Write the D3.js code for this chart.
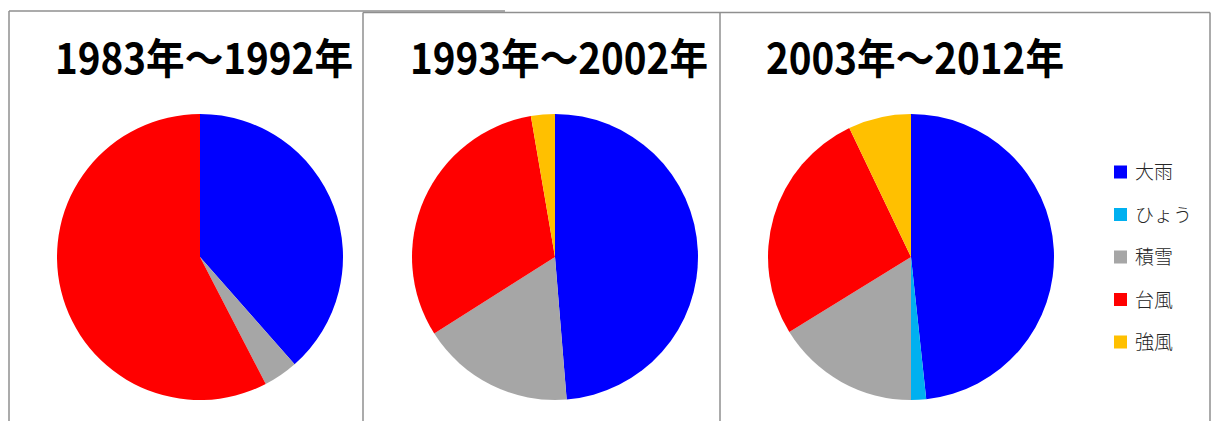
<!DOCTYPE html>
<html>
<head>
<meta charset="utf-8">
<script src="https://cdn.jsdelivr.net/npm/d3@7"></script>
<style>
  html, body { margin: 0; padding: 0; background: #fff; }
  svg { display: block; }
</style>
</head>
<body>
<div class="wrapper"></div>
<script>
// data (percent of each period)
var categories = ["大雨", "ひょう", "積雪", "台風", "強風"];
var colors = ["#0000ff", "#00b0f0", "#a6a6a6", "#ff0000", "#ffc000"];
var periods = ["1983年～1992年", "1993年～2002年", "2003年～2012年"];
var values1983 = [38.5, 0, 3.9, 57.6, 0];
var values1993 = [48.7, 0, 17.3, 31.3, 2.7];
var values2003 = [48.3, 1.7, 16.2, 26.7, 7.1];
var seriesValues = [values1983, values1993, values2003];

var width = 1214, height = 421;
var radius = 143;
var pieCenters = [200, 555, 911];
var pieY = 257;
var panelEdges = [9, 363, 720, 1210];
var borderColor = "#8f8f8f";

var svg = d3.select(".wrapper").append("svg")
  .attr("width", width)
  .attr("height", height);

// panel frames
var frameG = svg.append("g").classed("frames", true);
frameG.append("line")
  .attr("x1", panelEdges[0]).attr("x2", 505)
  .attr("y1", 11).attr("y2", 11);
frameG.append("line")
  .attr("x1", panelEdges[1]).attr("x2", panelEdges[3])
  .attr("y1", 12.5).attr("y2", 12.5);
panelEdges.forEach(function(x, i) {
  frameG.append("line")
    .attr("x1", x).attr("x2", x)
    .attr("y1", i === 0 ? 11 : 12.5).attr("y2", height);
});
frameG.selectAll("line")
  .attr("stroke", borderColor)
  .attr("stroke-width", 1.5);

var pie = d3.pie().sort(null).value(function(d) { return d; });
var arc = d3.arc().innerRadius(0).outerRadius(radius);
var colorScale = d3.scaleOrdinal().domain(categories).range(colors);

seriesValues.forEach(function(values, i) {
  var g = svg.append("g")
    .attr("transform", "translate(" + pieCenters[i] + "," + pieY + ")");
  g.selectAll("path")
    .data(pie(values))
    .enter()
    .append("path")
    .attr("d", arc)
    .attr("fill", function(d, j) { return colorScale(categories[j]); });

  svg.append("text")
    .attr("x", pieCenters[i] + 4)
    .attr("y", 74)
    .attr("text-anchor", "middle")
    .attr("font-family", "'Noto Sans CJK JP', 'Noto Sans', sans-serif")
    .attr("font-weight", "bold")
    .attr("font-size", 42)
    .attr("textLength", 298)
    .attr("lengthAdjust", "spacingAndGlyphs")
    .attr("fill", "#000")
    .text(periods[i]);
});

// legend
var legendY = d3.scalePoint().domain(categories).range([172, 342]);
var legend = svg.append("g").classed("legend", true);
var items = legend.selectAll("g")
  .data(categories)
  .enter()
  .append("g")
  .attr("transform", function(d) { return "translate(1114," + legendY(d) + ")"; });
items.append("rect")
  .attr("x", 0).attr("y", -6.5)
  .attr("width", 13).attr("height", 13)
  .attr("fill", function(d) { return colorScale(d); });
items.append("text")
  .attr("x", 21)
  .attr("y", 7)
  .attr("font-family", "'Noto Sans CJK JP', 'Noto Sans', sans-serif")
  .attr("font-size", 19)
  .attr("font-weight", 300)
  .attr("fill", "#262626")
  .text(function(d) { return d; });
</script>
</body>
</html>
